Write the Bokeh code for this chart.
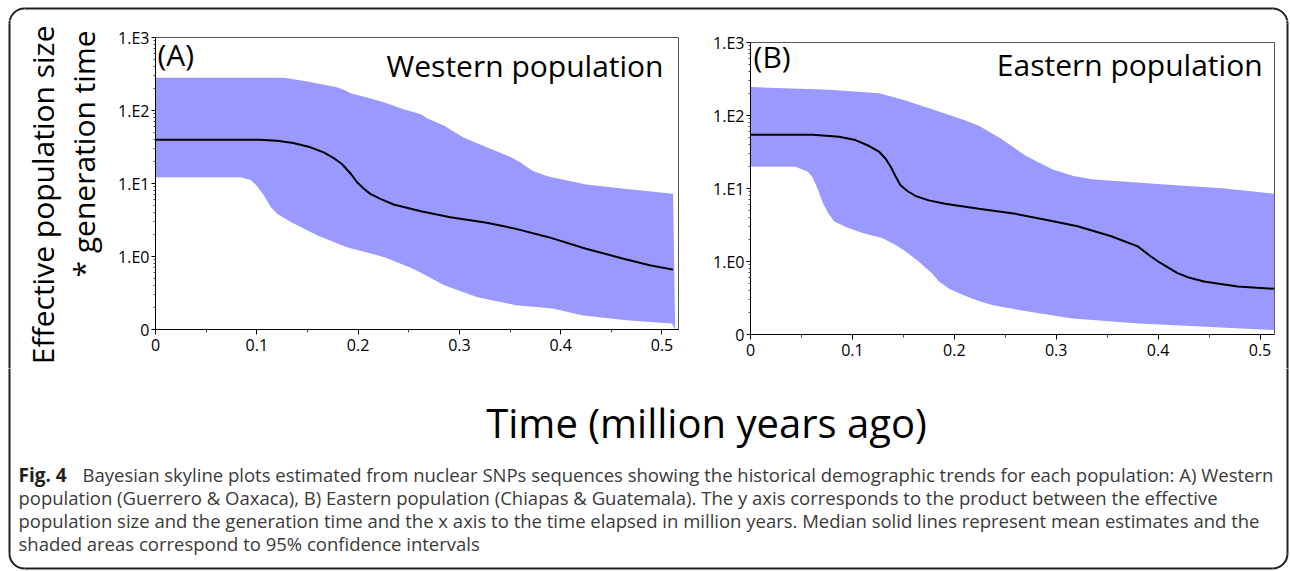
import math
from bokeh.plotting import figure
from bokeh.models import Range1d, FixedTicker, Spacer
from bokeh.layouts import row, column
from bokeh.core.properties import value
from bokeh.embed import file_html
from bokeh.resources import INLINE

# ---------------- data (time in million years ago, Ne*generation time) -------------
# Panel A - Western population
a_up_t = [0.0, 0.127, 0.150, 0.180, 0.188, 0.193, 0.209, 0.226, 0.245, 0.262, 0.268, 0.285, 0.304, 0.327, 0.350, 0.360, 0.372, 0.388, 0.425, 0.465, 0.511]
a_up_v = [282, 282, 249, 206, 186, 171, 151, 129, 104, 89, 78.5, 61.8, 42.8, 31.3, 23.3, 19.5, 15.0, 12.5, 9.66, 8.43, 7.21]
a_med_t = [0.0, 0.077, 0.103, 0.120, 0.136, 0.153, 0.166, 0.176, 0.184, 0.193, 0.199, 0.206, 0.212, 0.222, 0.235, 0.252, 0.262, 0.291, 0.327, 0.356, 0.388, 0.425, 0.462, 0.489, 0.511]
a_med_v = [39.8, 39.8, 39.8, 38.6, 35.8, 31.3, 26.7, 22.3, 18.5, 13.5, 10.4, 8.43, 7.21, 6.17, 5.15, 4.50, 4.17, 3.45, 2.90, 2.39, 1.84, 1.28, 0.933, 0.755, 0.661]
a_lo_t = [0.0, 0.084, 0.094, 0.100, 0.107, 0.114, 0.120, 0.134, 0.160, 0.189, 0.226, 0.252, 0.262, 0.285, 0.317, 0.356, 0.392, 0.421, 0.465, 0.510, 0.513]
a_lo_v = [12.2, 12.2, 11.2, 9.35, 6.84, 4.73, 3.85, 2.95, 1.94, 1.34, 0.98, 0.70, 0.60, 0.403, 0.279, 0.215, 0.194, 0.157, 0.134, 0.121, 0.10]

# Panel B - Eastern population
b_up_t = [0.0, 0.077, 0.126, 0.139, 0.152, 0.182, 0.211, 0.224, 0.244, 0.256, 0.270, 0.283, 0.296, 0.316, 0.335, 0.358, 0.414, 0.463, 0.514]
b_up_v = [245, 225, 202, 180, 160, 117, 85.1, 72.6, 50.1, 38.5, 28.1, 22.7, 18.4, 14.9, 13.4, 12.7, 11.2, 10.1, 8.47]
b_med_t = [0.0, 0.061, 0.087, 0.103, 0.116, 0.126, 0.133, 0.138, 0.143, 0.147, 0.154, 0.162, 0.175, 0.191, 0.224, 0.260, 0.292, 0.321, 0.354, 0.380, 0.393, 0.400, 0.408, 0.419, 0.430, 0.445, 0.478, 0.514]
b_med_v = [54.6, 54.6, 51.2, 46.1, 38.5, 32.1, 25.2, 19.4, 14.1, 11.2, 9.24, 7.89, 6.88, 6.18, 5.27, 4.50, 3.68, 3.04, 2.22, 1.61, 1.17, 1.00, 0.855, 0.692, 0.604, 0.532, 0.454, 0.422]
b_lo_t = [0.0, 0.044, 0.056, 0.061, 0.066, 0.071, 0.076, 0.082, 0.094, 0.110, 0.129, 0.142, 0.152, 0.165, 0.178, 0.185, 0.195, 0.208, 0.224, 0.237, 0.260, 0.283, 0.316, 0.381, 0.447, 0.514]
b_lo_v = [19.8, 19.8, 17.1, 14.1, 9.75, 6.38, 4.65, 3.57, 2.95, 2.46, 2.10, 1.70, 1.38, 1.00, 0.692, 0.532, 0.422, 0.349, 0.288, 0.254, 0.221, 0.195, 0.166, 0.142, 0.128, 0.115]

x_ticks = [0, 0.1, 0.2, 0.3, 0.4, 0.5]
x_minor = [0.05, 0.15, 0.25, 0.35, 0.45]
y_ticks = [0.1, 1, 10, 100, 1000]
y_labels = {0.1: "0", 1: "1.E0", 10: "1.E1", 100: "1.E2", 1000: "1.E3"}

y_title = ["Effective population size", "* generation time"]
x_title = "Time (million years ago)"
caption_bold = "Fig. 4"
caption_lines = [
    "Bayesian skyline plots estimated from nuclear SNPs sequences showing the historical demographic trends for each population: A) Western",
    "population (Guerrero & Oaxaca), B) Eastern population (Chiapas & Guatemala). The y axis corresponds to the product between the effective",
    "population size and the generation time and the x axis to the time elapsed in million years. Median solid lines represent mean estimates and the",
    "shaded areas correspond to 95% confidence intervals",
]

BAND = "#9999ff"
FONT = "Open Sans"
BORDER = "#231f20"

y_minor = [m * 10 ** e for e in range(-1, 3) for m in range(2, 10)]

# page geometry of the rounded frame (left, top, right, bottom, radius)
BL, BT, BR, BB, RAD = 9, 8, 1287, 568, 15


def draw_border(p, fx, fy, fw, fh):
    """draw the rounded frame pieces that fall inside figure p (page pos fx, fy)."""
    def lx(X):
        return X - fx

    def ly(Y):
        return fy + fh - Y
    xs = [[lx(BL + RAD), lx(BR - RAD)], [lx(BL + RAD), lx(BR - RAD)], [lx(BL), lx(BL)], [lx(BR), lx(BR)]]
    ys = [[ly(BT), ly(BT)], [ly(BB), ly(BB)], [ly(BT + RAD), ly(BB - RAD)], [ly(BT + RAD), ly(BB - RAD)]]
    p.multi_line(xs, ys, line_color=BORDER, line_width=2)
    cx = [lx(BL + RAD), lx(BR - RAD), lx(BL + RAD), lx(BR - RAD)]
    cy = [ly(BT + RAD), ly(BT + RAD), ly(BB - RAD), ly(BB - RAD)]
    sa = [math.pi / 2, 0, math.pi, 1.5 * math.pi]
    ea = [math.pi, math.pi / 2, 1.5 * math.pi, 2 * math.pi]
    p.arc(cx, cy, radius=RAD, start_angle=sa, end_angle=ea, line_color=BORDER, line_width=2)


def blank(fx, fy, fw, fh):
    p = figure(width=fw, height=fh, x_range=Range1d(0, fw), y_range=Range1d(0, fh),
               output_backend="svg", toolbar_location=None, title=None,
               x_axis_location=None, y_axis_location=None, min_border=0)
    p.grid.visible = False
    p.outline_line_color = None
    draw_border(p, fx, fy, fw, fh)
    return p


def panel(up_t, up_v, med_t, med_v, lo_t, lo_v, xmax, width, height, bl, br, bt, bb,
          tag, tag_xy, name, name_xy):
    p = figure(width=width, height=height, x_range=Range1d(0, xmax),
               y_range=Range1d(0.1, 1000), y_axis_type="log", title=None,
               output_backend="svg", toolbar_location=None,
               min_border_left=bl, min_border_right=br,
               min_border_top=bt, min_border_bottom=bb)
    p.grid.visible = False
    p.outline_line_color = "#555555"
    p.outline_line_width = 1

    px = list(up_t) + list(reversed(lo_t))
    py = list(up_v) + list(reversed(lo_v))
    p.patch(px, py, fill_color=BAND, line_color=None)
    p.line(med_t, med_v, line_color="black", line_width=2)

    xa = p.xaxis[0]
    xa.ticker = FixedTicker(ticks=x_ticks, minor_ticks=x_minor)
    xa.major_label_overrides = {0: "0"}
    ya = p.yaxis[0]
    ya.ticker = FixedTicker(ticks=y_ticks, minor_ticks=y_minor)
    ya.major_label_overrides = y_labels
    for ax in (xa, ya):
        ax.axis_line_color = "black"
        ax.axis_line_width = 1
        ax.major_tick_line_color = "black"
        ax.minor_tick_line_color = "#444444"
        ax.major_tick_out = 5
        ax.major_tick_in = 0
        ax.minor_tick_out = 3
        ax.minor_tick_in = 0
        ax.major_label_text_font = FONT
        ax.major_label_text_font_size = "16px"
        ax.major_label_text_color = "black"
        ax.major_label_standoff = 4
    ya.major_tick_out = 4
    ya.minor_tick_out = 2
    ya.major_label_standoff = 2

    p.text(x=[tag_xy[0]], y=[tag_xy[1]], text=[tag], text_font=value(FONT),
           text_font_size="30px", text_color="black",
           text_baseline="middle", text_align="left")
    p.text(x=[name_xy[0]], y=[name_xy[1]], text=[name], text_font=value(FONT),
           text_font_size="30px", text_color="black",
           text_baseline="middle", text_align="right")
    return p


W = 1290
TOP_H = 20
ROW_Y = TOP_H
ROW_H = 348
BOT_Y = ROW_Y + ROW_H
BOT_H = 571 - BOT_Y

pTop = blank(0, 0, W, TOP_H)

pT = blank(0, ROW_Y, 108, ROW_H)
pT.text(x=[41.5, 82.5], y=[ROW_Y + ROW_H - 25, ROW_Y + ROW_H - 30], text=y_title,
        angle=math.pi / 2, text_align="right", text_baseline="middle",
        text_font=value(FONT), text_font_size="30px", text_color="black")

pA = panel(a_up_t, a_up_v, a_med_t, a_med_v, a_lo_t, a_lo_v, 0.5163, 592, ROW_H,
           47, 22, 17, 39, "(A)", (0.002, 587), "Western population", (0.5015, 420))
B_SP = 5
pB = panel(b_up_t, b_up_v, b_med_t, b_med_v, b_lo_t, b_lo_v, 0.5142, 576, ROW_H - B_SP,
           50, 2, 17, 34, "(B)", (0.003, 640), "Eastern population", (0.5025, 500))
pR = blank(1276, ROW_Y, 14, ROW_H)

pC = blank(0, BOT_Y, W, BOT_H)


def cy(Y):
    return BOT_Y + BOT_H - Y


pC.text(x=[706], y=[cy(422)], text=[x_title], text_align="center",
        text_baseline="middle", text_font=value(FONT),
        text_font_size="40px", text_color="black")
pC.text(x=[18], y=[cy(474)], text=[caption_bold], text_align="left",
        text_baseline="middle", text_font=value(FONT),
        text_font_size="19px", text_font_style="bold", text_color=BORDER)
pC.text(x=[82, 18, 18, 18], y=[cy(474), cy(497), cy(520), cy(543)],
        text=caption_lines, text_align="left", text_baseline="middle",
        text_font=value(FONT), text_font_size="18.5px", text_color="#3a3a3a")

layout = column(pTop,
                row(column(pT), pA, column(Spacer(height=B_SP), pB), column(pR)),
                pC)

open("out.html", "w").write(file_html(layout, INLINE))
